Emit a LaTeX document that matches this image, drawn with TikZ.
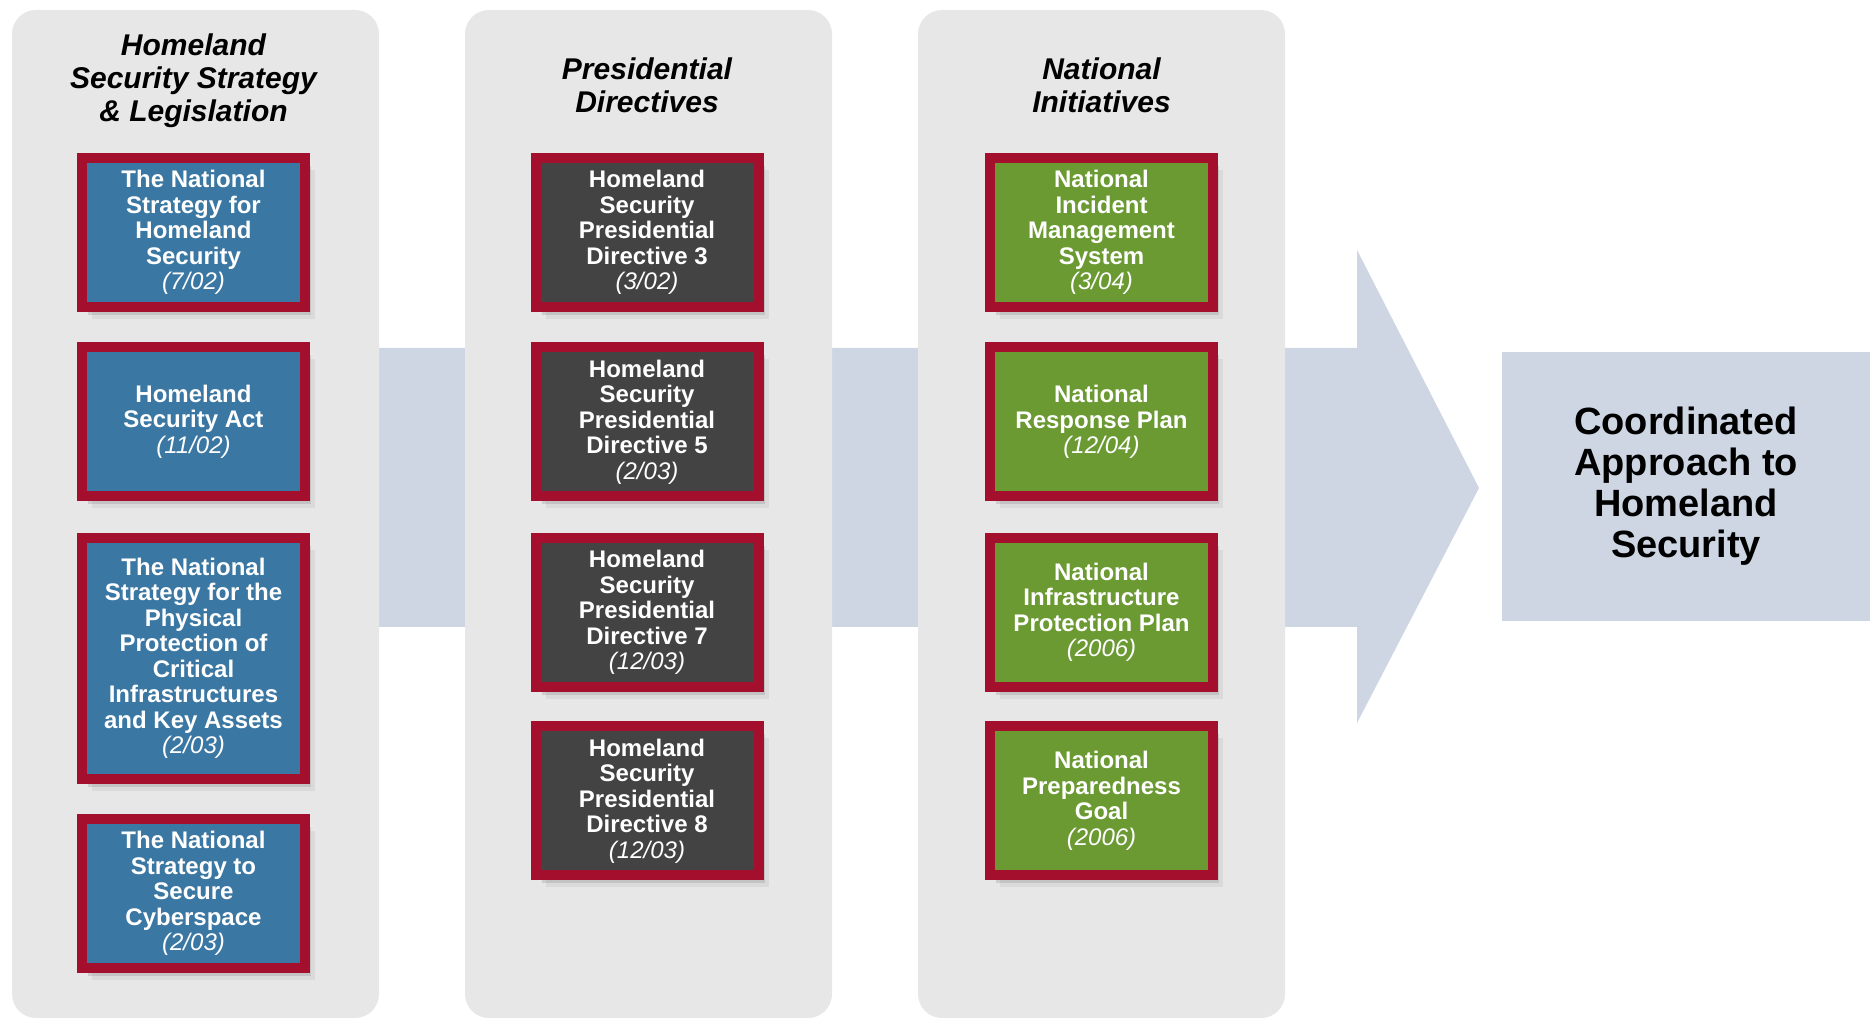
\documentclass[tikz,border=0pt]{standalone}
\usepackage{fontspec}
\setmainfont{Liberation Sans}
\usetikzlibrary{shadows}
\definecolor{panelgray}{HTML}{E7E7E7}
\definecolor{bandblue}{HTML}{CDD6E2}
\definecolor{crimson}{HTML}{A30F2D}
\definecolor{legblue}{HTML}{3B77A3}
\definecolor{dirgray}{HTML}{434343}
\definecolor{initgreen}{HTML}{6B9A33}
\tikzset{
  panel/.style={fill=panelgray, rounded corners=12pt},
  card/.style={draw=crimson, line width=5pt, text=white, align=center,
    inner sep=0pt, minimum width=111.5pt, minimum height=74.5pt,
    font=\fontsize{12}{12.75}\selectfont\bfseries,
    drop shadow={shadow xshift=5pt, shadow yshift=-6pt, opacity=.12},
    drop shadow={shadow xshift=3pt, shadow yshift=-4pt, opacity=.25}},
  legcard/.style={card, fill=legblue},
  dircard/.style={card, fill=dirgray},
  initcard/.style={card, fill=initgreen},
  heading/.style={align=center, font=\fontsize{15}{16.5}\selectfont\bfseries\itshape},
}
\newcommand{\when}[1]{\\{\mdseries\itshape (#1)}}
\begin{document}
\begin{tikzpicture}[x=0.5pt, y=-0.5pt]
      \useasboundingbox (0,0) rectangle (1870,1020);
      % band and arrow head
      \fill[bandblue] (379,348) -- (1357,348) -- (1357,250) -- (1479,488)
        -- (1357,723) -- (1357,627) -- (379,627) -- cycle;
      % panels
      \path[panel] (12,10) rectangle (379,1018);
      \path[panel] (465,10) rectangle (832,1018);
      \path[panel] (918,10) rectangle (1285,1018);
      \draw
        (193.5,81) node[heading] (t1){Homeland\\Security Strategy\\\& Legislation}
        (647,85) node[heading] (t2){Presidential\\Directives}
        (1101.5,85) node[heading] (t3){National\\Initiatives};
      % strategy & legislation
      \draw
        (193.5,232.5) node[legcard] (l1){The National\\Strategy for\\Homeland\\Security\when{7/02}}
        (193.5,421.5) node[legcard] (l2){Homeland\\Security Act\when{11/02}}
        (193.5,658.5) node[legcard, minimum height=120.5pt] (l3){The National\\Strategy for the\\Physical\\Protection of\\Critical\\Infrastructures\\and Key Assets\when{2/03}}
        (193.5,893.5) node[legcard] (l4){The National\\Strategy to\\Secure\\Cyberspace\when{2/03}};
      % directives
      \draw
        (647,232.5) node[dircard] (d1){Homeland\\Security\\Presidential\\Directive 3\when{3/02}}
        (647,422) node[dircard] (d2){Homeland\\Security\\Presidential\\Directive 5\when{2/03}}
        (647,612.5) node[dircard] (d3){Homeland\\Security\\Presidential\\Directive 7\when{12/03}}
        (647,801) node[dircard] (d4){Homeland\\Security\\Presidential\\Directive 8\when{12/03}};
      % initiatives
      \draw
        (1101.5,232.5) node[initcard] (i1){National\\Incident\\Management\\System\when{3/04}}
        (1101.5,422) node[initcard] (i2){National\\Response Plan\when{12/04}}
        (1101.5,612.5) node[initcard] (i3){National\\Infrastructure\\Protection Plan\when{2006}}
        (1101.5,801) node[initcard] (i4){National\\Preparedness\\Goal\when{2006}};
      \draw
        (1686,486.5) node[fill=bandblue, minimum width=184pt, minimum height=134.5pt,
          align=center, font=\fontsize{19}{20.5}\selectfont\bfseries] (r){Coordinated\\Approach to\\Homeland\\Security};
    \end{tikzpicture}
\end{document}
